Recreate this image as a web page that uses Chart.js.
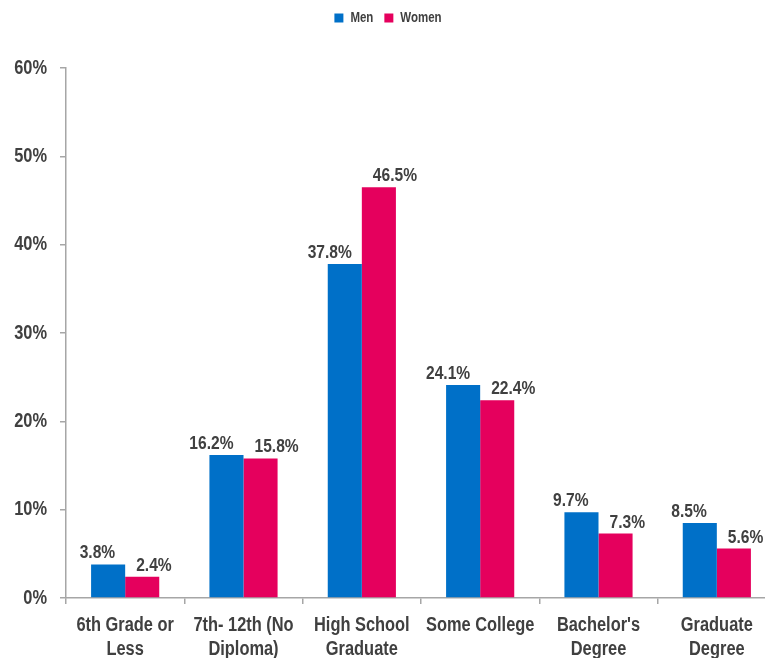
<!DOCTYPE html>
<html>
<head>
<meta charset="utf-8">
<script src="https://cdn.jsdelivr.net/npm/chart.js@4.4.1/dist/chart.umd.min.js"></script>
<style>
  html, body { margin: 0; padding: 0; background: #fff; overflow: hidden; }
  #chart { display: block; }
</style>
</head>
<body>
<canvas id="chart" width="780" height="658"></canvas>
<script>
// education level by sex, percent
const categories = [
  ['6th Grade or', 'Less'],
  ['7th- 12th (No', 'Diploma)'],
  ['High School', 'Graduate'],
  ['Some College'],
  ["Bachelor's", 'Degree'],
  ['Graduate', 'Degree']
];
const menValues = [3.8, 16.2, 37.8, 24.1, 9.7, 8.5];
const womenValues = [2.4, 15.8, 46.5, 22.4, 7.3, 5.6];
const yTicks = [0, 10, 20, 30, 40, 50, 60];

const FONT = "'Liberation Sans', Arial, sans-serif";
const TEXT = '#404040';
const AXIS = '#a6a6a6';
const SQUEEZE = 0.82; // no narrow font here, so squeeze text horizontally

const ctx = document.getElementById('chart').getContext('2d');
const origFill = ctx.fillText.bind(ctx);
const origMeasure = ctx.measureText.bind(ctx);
ctx.fillText = function (t, x, y) {
  this.save();
  this.translate(x, y);
  this.scale(SQUEEZE, 1);
  origFill(t, 0, 0);
  this.restore();
};
ctx.measureText = function (t) {
  const m = origMeasure(t);
  return {
    width: m.width * SQUEEZE,
    actualBoundingBoxAscent: m.actualBoundingBoxAscent,
    actualBoundingBoxDescent: m.actualBoundingBoxDescent,
    actualBoundingBoxLeft: m.actualBoundingBoxLeft * SQUEEZE,
    actualBoundingBoxRight: m.actualBoundingBoxRight * SQUEEZE
  };
};

// value labels, men pushed left and women pushed right like the original
const barLabels = {
  id: 'barLabels',
  afterDatasetsDraw(chart) {
    const c = chart.ctx;
    c.save();
    c.font = 'bold 19px ' + FONT;
    c.fillStyle = TEXT;
    c.textBaseline = 'alphabetic';
    chart.data.datasets.forEach((ds, i) => {
      chart.getDatasetMeta(i).data.forEach((bar, j) => {
        const txt = ds.data[j].toFixed(1) + '%';
        if (i === 0) {
          c.textAlign = 'right';
          c.fillText(txt, bar.x + bar.width / 2 - 10, bar.y - 6);
        } else {
          c.textAlign = 'left';
          c.fillText(txt, bar.x - bar.width / 2 + 11, bar.y - 6);
        }
      });
    });
    c.restore();
  }
};

// extra space under the legend
const legendSpace = {
  id: 'legendSpace',
  beforeInit(chart) {
    const fit = chart.legend.fit;
    chart.legend.fit = function () {
      fit.bind(chart.legend)();
      this.height += 33;
    };
  }
};

new Chart(ctx, {
  type: 'bar',
  data: {
    labels: categories,
    datasets: [
      { label: 'Men', data: menValues, backgroundColor: '#0070c8' },
      { label: 'Women', data: womenValues, backgroundColor: '#e5005d' }
    ]
  },
  options: {
    responsive: false,
    animation: false,
    devicePixelRatio: 1,
    layout: { padding: { left: 0, right: 4, top: 0, bottom: 0 } },
    datasets: {
      bar: { categoryPercentage: 0.576, barPercentage: 1.0 }
    },
    plugins: {
      legend: {
        position: 'top',
        labels: {
          boxWidth: 9,
          boxHeight: 9,
          padding: 11,
          color: TEXT,
          font: { family: FONT, size: 14, weight: 'bold' }
        }
      },
      tooltip: { enabled: false }
    },
    scales: {
      x: {
        afterFit(scale) { scale.height = 60; },
        border: { color: AXIS, width: 1.5 },
        grid: { display: true, drawOnChartArea: false, drawTicks: true, tickLength: 6, color: AXIS, lineWidth: 1.5 },
        ticks: {
          color: TEXT,
          padding: 9,
          maxRotation: 0,
          autoSkip: false,
          font: { family: FONT, size: 20, weight: 'bold', lineHeight: 1.2 }
        }
      },
      y: {
        min: 0,
        max: 60,
        afterFit(scale) { scale.width = 66; },
        afterBuildTicks(scale) { scale.ticks = yTicks.map(v => ({ value: v })); },
        border: { color: AXIS, width: 1.5 },
        grid: { display: true, drawOnChartArea: false, drawTicks: true, tickLength: 6, color: AXIS, lineWidth: 1.5 },
        ticks: {
          color: TEXT,
          padding: 13,
          callback: v => v + '%',
          font: { family: FONT, size: 20, weight: 'bold' }
        }
      }
    }
  },
  plugins: [barLabels, legendSpace]
});
</script>
</body>
</html>
